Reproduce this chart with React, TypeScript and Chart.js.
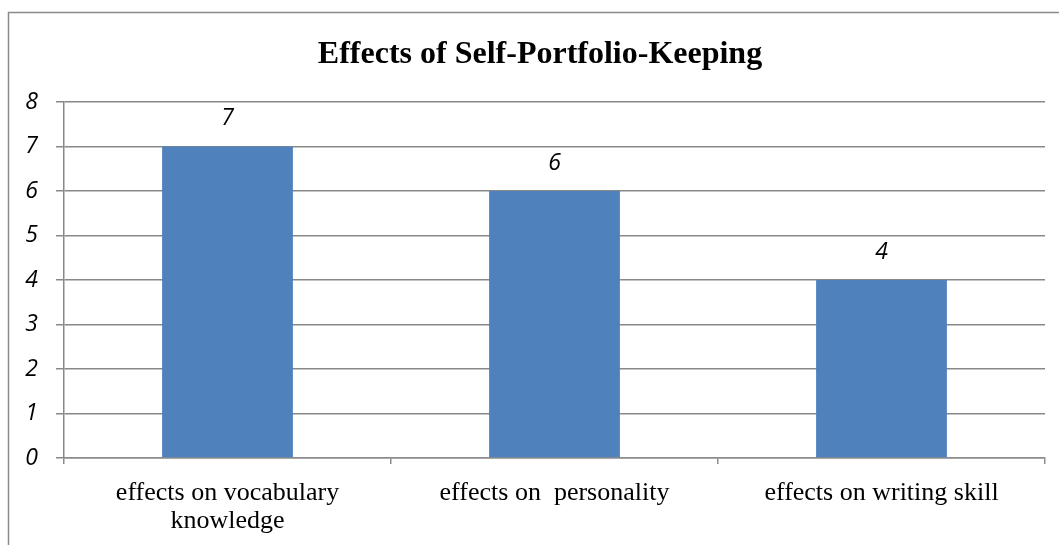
import React, { useEffect, useRef } from "react";
import { Chart, registerables } from "chart.js";

Chart.register(...registerables);

const TITLE = "Effects of Self-Portfolio-Keeping";
const categories: (string | string[])[] = [
  ["effects on vocabulary", "knowledge"],
  "effects on  personality",
  "effects on writing skill",
];
const values = [7, 6, 4];
const yMin = 0;
const yMax = 8;
const yStep = 1;

const decorPlugin = {
  id: "decor",
  afterDraw(chart: any) {
    const ctx = chart.ctx;
    ctx.save();
    ctx.strokeStyle = "#8a8a8a";
    ctx.lineWidth = 1.5;
    ctx.beginPath();
    ctx.moveTo(8.5, 560);
    ctx.lineTo(8.5, 12.5);
    ctx.lineTo(1070, 12.5);
    ctx.stroke();
    ctx.fillStyle = "#000";
    ctx.font = "bold 32px 'Liberation Serif'";
    ctx.textAlign = "center";
    ctx.textBaseline = "middle";
    ctx.fillText(TITLE, 540, 55);
    const meta = chart.getDatasetMeta(0);
    ctx.font = "italic 23px 'Open Sans'";
    ctx.textBaseline = "middle";
    meta.data.forEach((bar: any, i: number) => {
      ctx.fillText(String(values[i]), bar.x, bar.y - 28);
    });
    ctx.restore();
  },
};

export default function App() {
  const ref = useRef<HTMLCanvasElement>(null);
  useEffect(() => {
    if (!ref.current) return;
    const chart = new Chart(ref.current, {
      type: "bar",
      data: {
        labels: categories,
        datasets: [
          {
            data: values,
            backgroundColor: "#4F81BD",
            barPercentage: 0.8,
            categoryPercentage: 0.5,
          },
        ],
      },
      options: {
        animation: false,
        responsive: false,
        maintainAspectRatio: false,
        layout: { padding: { top: 102, left: 0, right: 14, bottom: 0 } },
        plugins: {
          legend: { display: false },
          title: { display: false },
          tooltip: { enabled: false },
        },
        scales: {
          x: {
            afterFit: (s: any) => {
              s.height = 87;
            },
            grid: {
              offset: true,
              drawOnChartArea: false,
              drawTicks: true,
              tickLength: 6,
              color: "#8c8c8c",
              lineWidth: 1.5,
            },
            border: { color: "#8c8c8c", width: 1.5 },
            ticks: {
              color: "#000",
              font: { family: "'Liberation Serif'", size: 26, lineHeight: 1.08 },
              padding: 15,
              maxRotation: 0,
            },
          },
          y: {
            min: yMin,
            max: yMax,
            afterFit: (s: any) => {
              s.width = 64;
            },
            grid: {
              color: "#888888",
              lineWidth: 1.5,
              tickLength: 8,
            },
            border: { color: "#888888", width: 1.5 },
            ticks: {
              stepSize: yStep,
              color: "#000",
              font: { family: "'Open Sans'", size: 23, style: "italic" },
              padding: 18,
            },
          },
        },
      },
      plugins: [decorPlugin],
    });
    return () => chart.destroy();
  }, []);
  return (
    <div style={{ position: "fixed", left: 0, top: 0, width: 1059, height: 545, background: "#fff" }}>
      <canvas ref={ref} width={1059} height={545} style={{ display: "block" }} />
    </div>
  );
}
